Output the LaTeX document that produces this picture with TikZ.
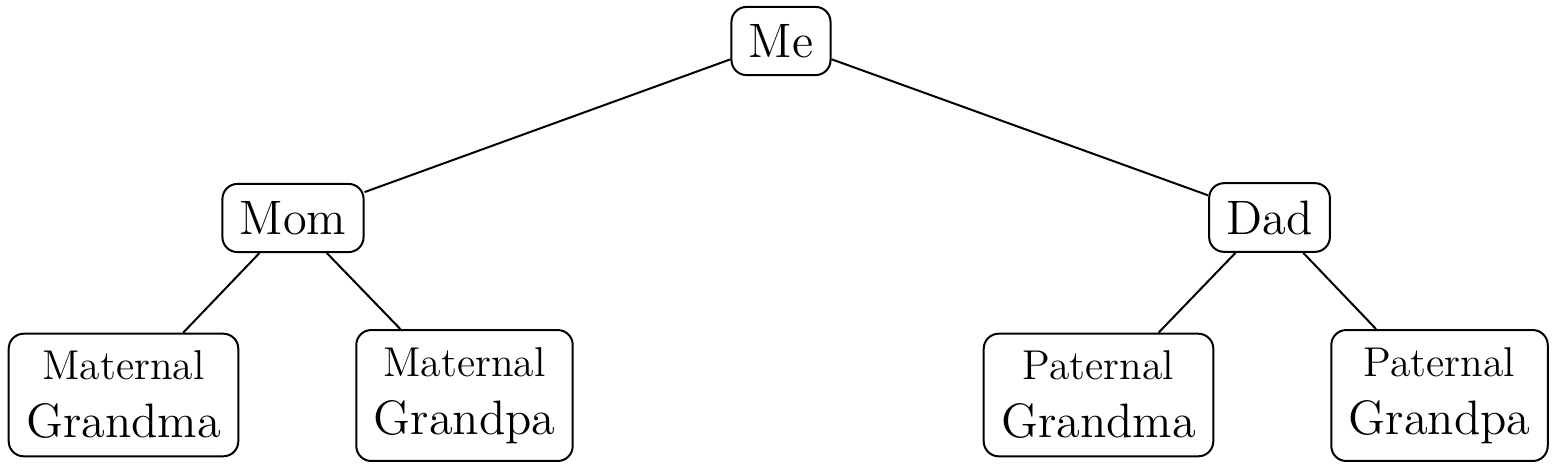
\documentclass[tikz,border=0pt]{standalone}
\begin{document}
\begin{tikzpicture}[x=0.3pt,y=-0.3pt,
  person/.style={draw, rounded corners=4.5pt, line width=0.6pt, inner sep=5.2pt, align=center, font=\fontsize{14.5}{17.4}\selectfont},
  link/.style={line width=0.6pt}]
\useasboundingbox (0,0) rectangle (1554,467);
\node[person] (me) at (781,41) {Me};
\node[person] (mom) at (293,218) {Mom};
\node[person] (dad) at (1269.5,217.5) {Dad};
\node[person] (mgm) at (123.5,395) {{\fontsize{12.5}{14}\selectfont Maternal}\\Grandma};
\node[person] (mgp) at (464.5,395.5) {{\fontsize{12.5}{14}\selectfont Maternal}\\Grandpa};
\node[person] (pgm) at (1098.5,395) {{\fontsize{12.5}{14}\selectfont Paternal}\\Grandma};
\node[person] (pgp) at (1439.5,395.5) {{\fontsize{12.5}{14}\selectfont Paternal}\\Grandpa};
\draw[link] (me) -- (mom);
\draw[link] (me) -- (dad);
\draw[link] (mom) -- (mgm);
\draw[link] (mom) -- (mgp);
\draw[link] (dad) -- (pgm);
\draw[link] (dad) -- (pgp);
\end{tikzpicture}
\end{document}
